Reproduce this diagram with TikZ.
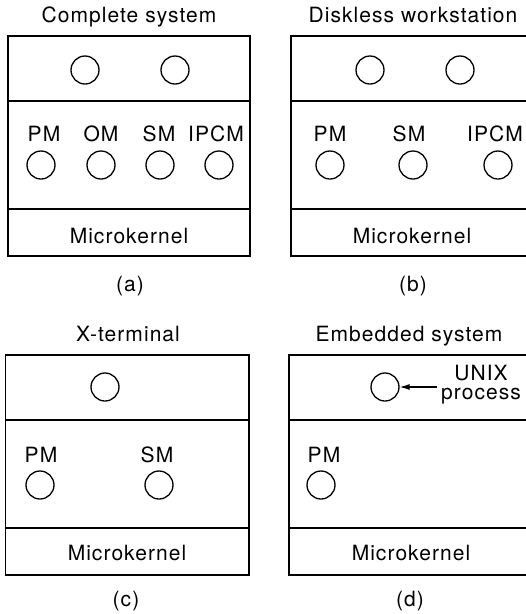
\documentclass[tikz,border=0pt]{standalone}
\usepackage{fontspec}
\setmainfont{TeX Gyre Heros}[LetterSpace=5]
\usetikzlibrary{arrows.meta}

\begin{document}
\begin{tikzpicture}[
  x=1pt,
  y=-1pt,
  every node/.style={font=\fontsize{21}{19}\selectfont},
  frame/.style={line width=1.6pt},
  proc/.style={draw, circle, line width=1.3pt, minimum size=28pt, inner sep=0pt},
  txt/.style={anchor=base}
]
\useasboundingbox (0,0) rectangle (526,614);
\clip (0,0) rectangle (526,614);

\node[txt] (titleA) at (129,22) {Complete system};
\draw[frame] (8,36) rectangle (250,256);
\draw[frame] (8,101) -- (250,101);
\draw[frame] (8,209) -- (250,209);
\node[proc] (uA1) at (85,70) {};
\node[proc] (uA2) at (175,70) {};
\node[txt] (pmlA) at (44,141) {PM};
\node[txt] (omlA) at (101,141) {OM};
\node[txt] (smlA) at (159,141) {SM};
\node[txt] (ipcmlA) at (216,141) {IPCM};
\node[proc] (pmA) at (41,165) {};
\node[proc] (omA) at (101,165) {};
\node[proc] (smA) at (160,165) {};
\node[proc] (ipcmA) at (219,165) {};
\node[txt] (mkA) at (129,243) {Microkernel};
\node (capA) at (130,286) {(a)};

\node[txt] (titleB) at (413,22) {Diskless workstation};
\draw[frame] (291,36) rectangle (540,256);
\draw[frame] (291,101) -- (540,101);
\draw[frame] (291,209) -- (540,209);
\node[proc] (uB1) at (370,70) {};
\node[proc] (uB2) at (460,70) {};
\node[txt] (pmlB) at (330,141) {PM};
\node[txt] (smlB) at (409,141) {SM};
\node[txt] (ipcmlB) at (495,141) {IPCM};
\node[proc] (pmB) at (330,165) {};
\node[proc] (smB) at (413,165) {};
\node[proc] (ipcmB) at (498,165) {};
\node[txt] (mkB) at (412,243) {Microkernel};
\node (capB) at (413,286) {(b)};

\node[txt] (titleC) at (128,341) {X-terminal};
\draw[frame] (5.5,355) rectangle (249,575);
\draw[frame] (5.5,420) -- (249,420);
\draw[frame] (5.5,528) -- (249,528);
\node[proc] (uC1) at (105,387) {};
\node[txt] (pmlC) at (41,462) {PM};
\node[txt] (smlC) at (157,462) {SM};
\node[proc] (pmC) at (40,485) {};
\node[proc] (smC) at (159,485) {};
\node[txt] (mkC) at (127,560) {Microkernel};
\node (capC) at (126,601) {(c)};

\node[txt] (titleD) at (409,341) {Embedded system};
\draw[frame] (289,355) rectangle (540,575);
\draw[frame] (289,420) -- (540,420);
\draw[frame] (289,528) -- (540,528);
\node[proc] (uD1) at (385,387) {};
\node[align=center, inner sep=4pt] (unixlbl) at (481,385) {UNIX\\process};
\draw[line width=1.2pt, -{Latex[length=10pt,width=6pt]}] (unixlbl.west |- uD1.east) -- (uD1.east);
\node[txt] (pmlD) at (324,462) {PM};
\node[proc] (pmD) at (321,485) {};
\node[txt] (mkD) at (411,560) {Microkernel};
\node (capD) at (410,601) {(d)};
\end{tikzpicture}
\end{document}
